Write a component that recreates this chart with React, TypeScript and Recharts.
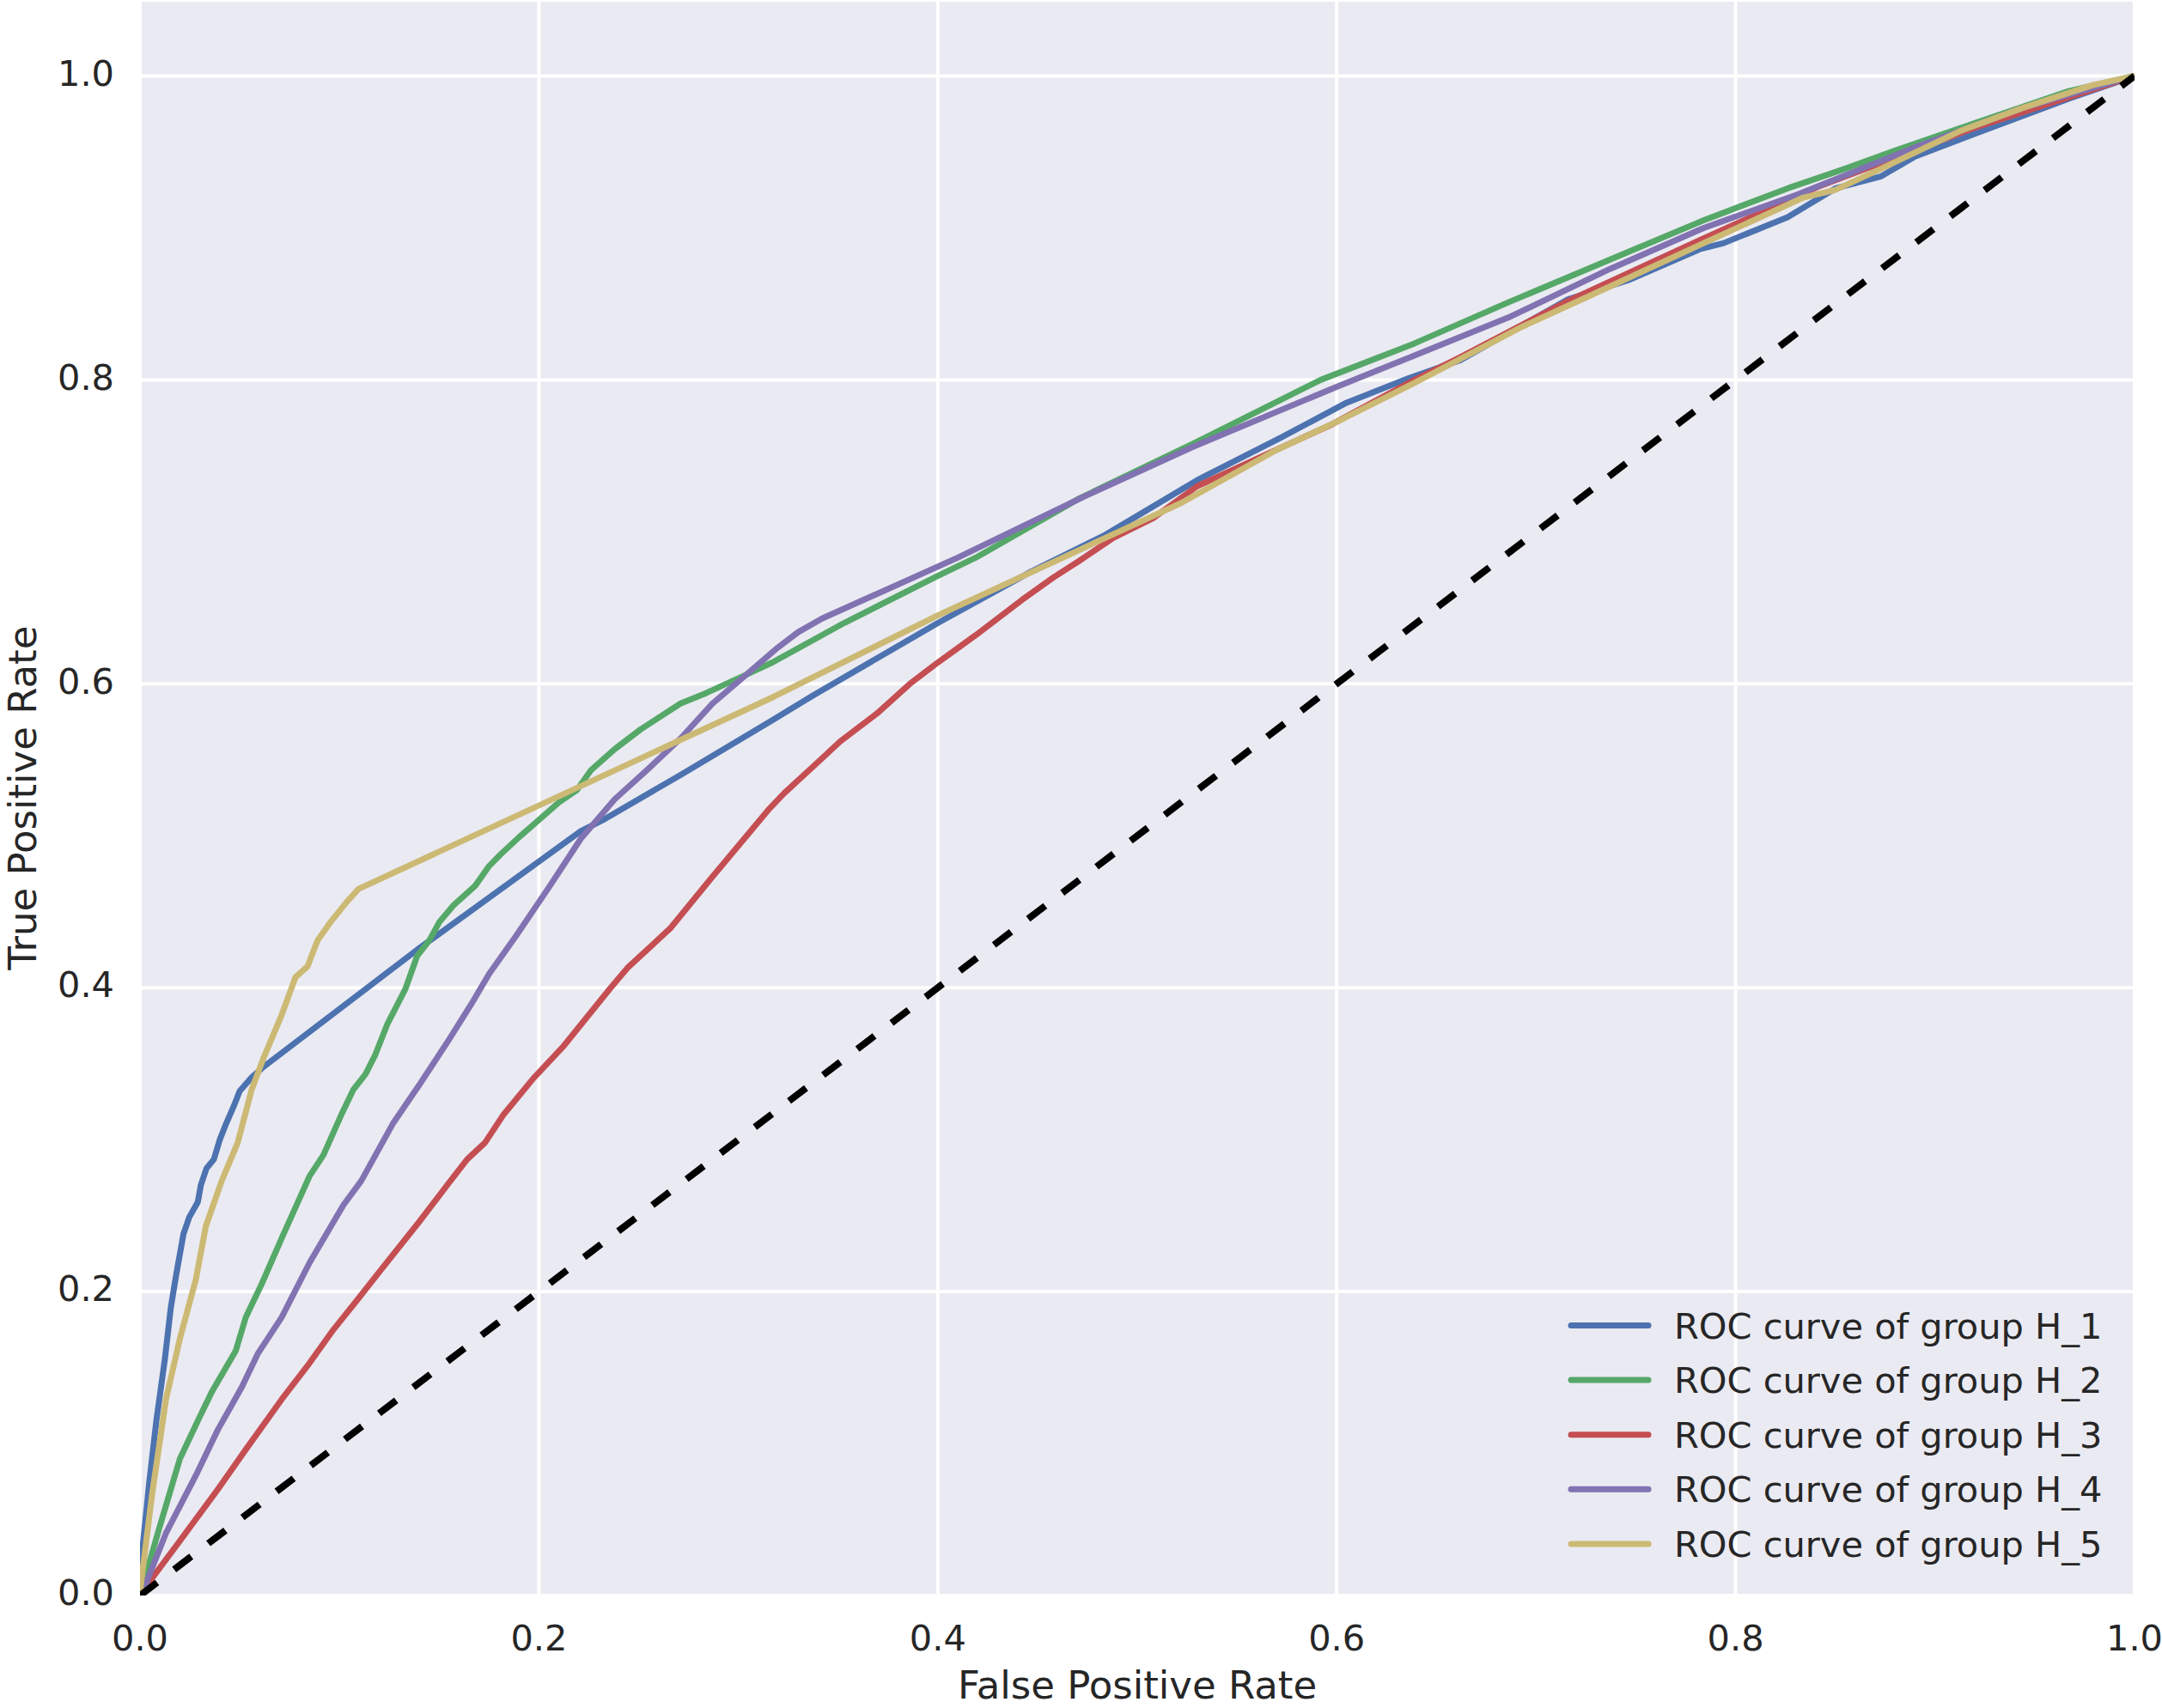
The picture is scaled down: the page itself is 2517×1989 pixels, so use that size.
import React from 'react';
import { LineChart, Line, XAxis, YAxis, CartesianGrid, Legend, Label } from 'recharts';

// ---- data ----
const xTicks = [0, 0.2, 0.4, 0.6, 0.8, 1.0];
const yTicks = [0, 0.2, 0.4, 0.6, 0.8, 1.0];

const h1: number[][] = [
  [0, 0], [0.001, 0.028], [0.0046, 0.074], [0.0082, 0.115], [0.0125, 0.156], [0.0154, 0.189],
  [0.018, 0.21], [0.0218, 0.238], [0.0247, 0.249], [0.029, 0.259], [0.0305, 0.27], [0.0333, 0.281],
  [0.037, 0.287], [0.04, 0.3], [0.0427, 0.309], [0.047, 0.322], [0.05, 0.332], [0.056, 0.341],
  [0.062, 0.348], [0.139, 0.425], [0.221, 0.503], [0.233, 0.511], [0.271, 0.54], [0.317, 0.576],
  [0.337, 0.592], [0.4, 0.64], [0.447, 0.674], [0.484, 0.698], [0.53, 0.734], [0.572, 0.762],
  [0.605, 0.785], [0.636, 0.801], [0.662, 0.813], [0.716, 0.853], [0.747, 0.866], [0.782, 0.886],
  [0.794, 0.89], [0.826, 0.907], [0.85, 0.926], [0.873, 0.934], [0.89, 0.947], [0.92, 0.962],
  [0.967, 0.985], [1, 1],
];

const h2: number[][] = [
  [0, 0], [0.0017, 0.008], [0.0089, 0.041], [0.02, 0.09], [0.029, 0.115], [0.036, 0.134],
  [0.048, 0.161], [0.053, 0.183], [0.061, 0.205], [0.071, 0.235], [0.085, 0.276], [0.092, 0.29],
  [0.1008, 0.316], [0.107, 0.333], [0.113, 0.343], [0.118, 0.356], [0.124, 0.376], [0.133, 0.399],
  [0.139, 0.421], [0.145, 0.431], [0.15, 0.443], [0.157, 0.454], [0.168, 0.467], [0.175, 0.48],
  [0.181, 0.488], [0.19, 0.499], [0.197, 0.507], [0.21, 0.522], [0.219, 0.53], [0.226, 0.543],
  [0.238, 0.557], [0.251, 0.57], [0.271, 0.587], [0.284, 0.594], [0.304, 0.606], [0.317, 0.614],
  [0.353, 0.64], [0.4, 0.671], [0.419, 0.683], [0.471, 0.722], [0.528, 0.758], [0.592, 0.8],
  [0.639, 0.824], [0.686, 0.851], [0.744, 0.883], [0.784, 0.905], [0.826, 0.926], [0.855, 0.939],
  [0.88, 0.951], [0.92, 0.969], [0.967, 0.99], [1, 1],
];

const h3: number[][] = [
  [0, 0], [0.003, 0.006], [0.02, 0.036], [0.038, 0.068], [0.053, 0.096], [0.071, 0.129],
  [0.085, 0.153], [0.097, 0.175], [0.108, 0.193], [0.12, 0.213], [0.14, 0.246], [0.154, 0.27],
  [0.164, 0.287], [0.173, 0.298], [0.182, 0.316], [0.197, 0.34], [0.212, 0.361], [0.236, 0.4],
  [0.2444, 0.413], [0.2658, 0.439], [0.287, 0.473], [0.315, 0.517], [0.323, 0.528], [0.342, 0.551],
  [0.351, 0.562], [0.37, 0.581], [0.386, 0.6], [0.399, 0.613], [0.419, 0.632], [0.442, 0.655],
  [0.458, 0.67], [0.471, 0.681], [0.488, 0.696], [0.508, 0.709], [0.53, 0.73], [0.598, 0.771],
  [0.639, 0.8], [0.662, 0.815], [0.716, 0.852], [0.782, 0.892], [0.843, 0.928], [0.92, 0.966],
  [1, 1],
];

const h4: number[][] = [
  [0, 0], [0.003, 0.008], [0.013, 0.041], [0.028, 0.079], [0.039, 0.109], [0.051, 0.137],
  [0.059, 0.159], [0.071, 0.183], [0.085, 0.219], [0.102, 0.257], [0.111, 0.273], [0.127, 0.311],
  [0.14, 0.336], [0.155, 0.366], [0.166, 0.389], [0.175, 0.409], [0.1885, 0.434], [0.205, 0.466],
  [0.221, 0.498], [0.238, 0.524], [0.254, 0.543], [0.271, 0.564], [0.287, 0.587], [0.304, 0.606],
  [0.319, 0.623], [0.33, 0.634], [0.342, 0.643], [0.41, 0.683], [0.473, 0.723], [0.528, 0.756],
  [0.601, 0.796], [0.639, 0.816], [0.686, 0.841], [0.737, 0.873], [0.784, 0.9], [0.831, 0.922],
  [0.892, 0.954], [0.944, 0.979], [1, 1],
];

const h5: number[][] = [
  [0, 0], [0.0005, 0.008], [0.006, 0.066], [0.013, 0.129], [0.02, 0.169], [0.028, 0.208],
  [0.033, 0.243], [0.041, 0.273], [0.049, 0.298], [0.056, 0.333], [0.062, 0.354], [0.071, 0.382],
  [0.078, 0.407], [0.084, 0.414], [0.089, 0.431], [0.096, 0.444], [0.104, 0.457], [0.1096, 0.465],
  [0.317, 0.591], [0.4, 0.645], [0.484, 0.696], [0.522, 0.719], [0.57, 0.754], [0.601, 0.773],
  [0.639, 0.798], [0.693, 0.835], [0.728, 0.856], [0.784, 0.89], [0.834, 0.92], [0.85, 0.925],
  [0.873, 0.939], [0.913, 0.964], [0.944, 0.979], [0.979, 0.994], [1, 1],
];

const chance: number[][] = [[0, 0], [1, 1]];

const seriesNames = [
  'ROC curve of group H_1',
  'ROC curve of group H_2',
  'ROC curve of group H_3',
  'ROC curve of group H_4',
  'ROC curve of group H_5',
];
const seriesColors = ['#4C72B0', '#55A868', '#C44E52', '#8172B2', '#CCB974'];
const seriesData = [h1, h2, h3, h4, h5];

const toPts = (arr: number[][]) => arr.map(([x, y]) => ({ x, y }));

const FONT = 'DejaVu Sans';
const TEXT = '#262626';
const TICK_FS = 41.5;
const LABEL_FS = 45;

const XTick = (props: any) => {
  const { x, y, payload } = props;
  return (
    <text x={x} y={y} textAnchor="middle" fontSize={TICK_FS} fontFamily={FONT} fill={TEXT}>
      {Number(payload.value).toFixed(1)}
    </text>
  );
};

const YTick = (props: any) => {
  const { x, y, payload } = props;
  return (
    <text x={x} y={y} dy={11.3} textAnchor="end" fontSize={TICK_FS} fontFamily={FONT} fill={TEXT}>
      {Number(payload.value).toFixed(1)}
    </text>
  );
};

const XLabel = () => (
  <text x={1324} y={1978} textAnchor="middle" fontSize={LABEL_FS} fontFamily={FONT} fill={TEXT}>
    False Positive Rate
  </text>
);

const YLabel = () => (
  <text
    x={42}
    y={929}
    transform="rotate(-90 42 929)"
    textAnchor="middle"
    fontSize={LABEL_FS}
    fontFamily={FONT}
    fill={TEXT}
  >
    True Positive Rate
  </text>
);

const LegendContent = () => (
  <svg width={700} height={360} style={{ display: 'block' }}>
    {seriesNames.map((name, i) => {
      const cy = 63.5 + i * 63.6;
      return (
        <g key={name}>
          <line x1={49} x2={139} y1={cy} y2={cy} stroke={seriesColors[i]} strokeWidth={7} strokeLinecap="round" />
          <text x={169} y={cy + 15} fontSize={TICK_FS} fontFamily={FONT} fill={TEXT}>
            {name}
          </text>
        </g>
      );
    })}
  </svg>
);

export default function App() {
  return (
    <div style={{ width: 2517, height: 1989 }}>
      <style>{'body{margin:0;background:#fff}'}</style>
      <LineChart width={2517} height={1989} margin={{ top: 0, right: 32, bottom: 0, left: 0 }}>
        <CartesianGrid fill="#EAEAF2" fillOpacity={1} stroke="#FFFFFF" strokeWidth={4} />
        <XAxis
          type="number"
          dataKey="x"
          domain={[0, 1]}
          ticks={xTicks}
          height={131}
          axisLine={false}
          tickLine={false}
          tickSize={0}
          tickMargin={64}
          tick={<XTick />}
          allowDataOverflow
          interval={0}
        >
          <Label content={<XLabel />} />
        </XAxis>
        <YAxis
          type="number"
          dataKey="y"
          domain={[0, 1.05]}
          ticks={yTicks}
          width={163}
          axisLine={false}
          tickLine={false}
          tickSize={0}
          tickMargin={30}
          tick={<YTick />}
          allowDataOverflow
          interval={0}
        >
          <Label content={<YLabel />} />
        </YAxis>
        {seriesData.map((d, i) => (
          <Line
            key={seriesNames[i]}
            data={toPts(d)}
            dataKey="y"
            name={seriesNames[i]}
            type="linear"
            stroke={seriesColors[i]}
            strokeWidth={7}
            strokeLinejoin="round"
            dot={false}
            activeDot={false}
            isAnimationActive={false}
          />
        ))}
        <Line
          data={toPts(chance)}
          dataKey="y"
          name="chance"
          type="linear"
          stroke="#000000"
          strokeWidth={8}
          strokeDasharray="25 25"
          dot={false}
          activeDot={false}
          legendType="none"
          isAnimationActive={false}
        />
        <Legend
          layout="vertical"
          align="center"
          verticalAlign="middle"
          wrapperStyle={{ position: 'absolute', left: 1780, top: 1480, width: 700, height: 360 }}
          content={<LegendContent />}
        />
      </LineChart>
    </div>
  );
}
